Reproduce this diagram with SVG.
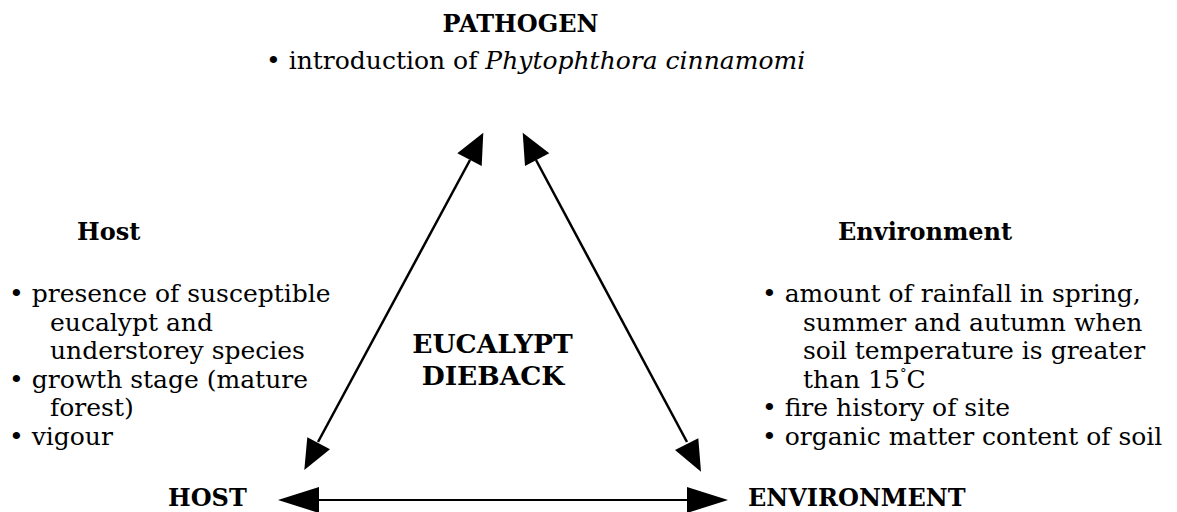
<svg xmlns="http://www.w3.org/2000/svg" width="1177" height="512" viewBox="0 0 1177 512">
<style>
.t{font-family:"DejaVu Serif","Liberation Serif",serif;fill:#000}
.title{font-weight:bold;font-size:24px}
.big{font-weight:bold;font-size:26.5px}
.body{font-size:25px}
.ln{stroke:#000;stroke-width:2.5;fill:none}
.hd{fill:#000;stroke:none}
</style>
<rect width="1177" height="512" fill="#fff"/>
<g id="connectors">
<line class="ln" x1="470" y1="160" x2="318" y2="442"/>
<polygon class="hd" points="483.3,132.7 457.3,153.3 481.7,166"/>
<polygon class="hd" points="304.3,470 307.3,437.3 330,449.3"/>
<line class="ln" x1="536" y1="160" x2="687" y2="442"/>
<polygon class="hd" points="522.7,132.7 549.3,153.3 525,166"/>
<polygon class="hd" points="701,471.7 698.3,438.3 675,450"/>
<line class="ln" x1="310" y1="500" x2="695" y2="500" style="stroke-width:2"/>
<polygon class="hd" points="278,500 319,487 319,513"/>
<polygon class="hd" points="728,500 687,487 687,513"/>
</g>
<g id="pathogen">
<text class="t title" x="520.5" y="32" text-anchor="middle">PATHOGEN</text>
<text class="t body" x="266" y="69">• introduction of <tspan font-style="italic">Phytophthora cinnamomi</tspan></text>
</g>
<g id="host-factors">
<text class="t title" x="77" y="240">Host</text>
<text class="t body" x="9" y="302">• presence of susceptible</text>
<text class="t body" x="50" y="330.5">eucalypt and</text>
<text class="t body" x="50" y="359">understorey species</text>
<text class="t body" x="9" y="387.5">• growth stage (mature</text>
<text class="t body" x="50" y="416">forest)</text>
<text class="t body" x="9" y="444.5">• vigour</text>
</g>
<g id="environment-factors">
<text class="t title" x="838" y="240">Environment</text>
<text class="t body" x="762" y="302">• amount of rainfall in spring,</text>
<text class="t body" x="803" y="330.5">summer and autumn when</text>
<text class="t body" x="803" y="359">soil temperature is greater</text>
<text class="t body" x="803" y="387.5">than 15<tspan font-size="13" dy="-10">°</tspan><tspan dy="10">C</tspan></text>
<text class="t body" x="762" y="416">• fire history of site</text>
<text class="t body" x="762" y="444.5">• organic matter content of soil</text>
</g>
<g id="center">
<text class="t big" x="492.5" y="353" text-anchor="middle">EUCALYPT</text>
<text class="t big" x="493" y="385" text-anchor="middle">DIEBACK</text>
</g>
<g id="host">
<text class="t title" x="168" y="506">HOST</text>
</g>
<g id="environment">
<text class="t title" x="748" y="506">ENVIRONMENT</text>
</g>
</svg>
